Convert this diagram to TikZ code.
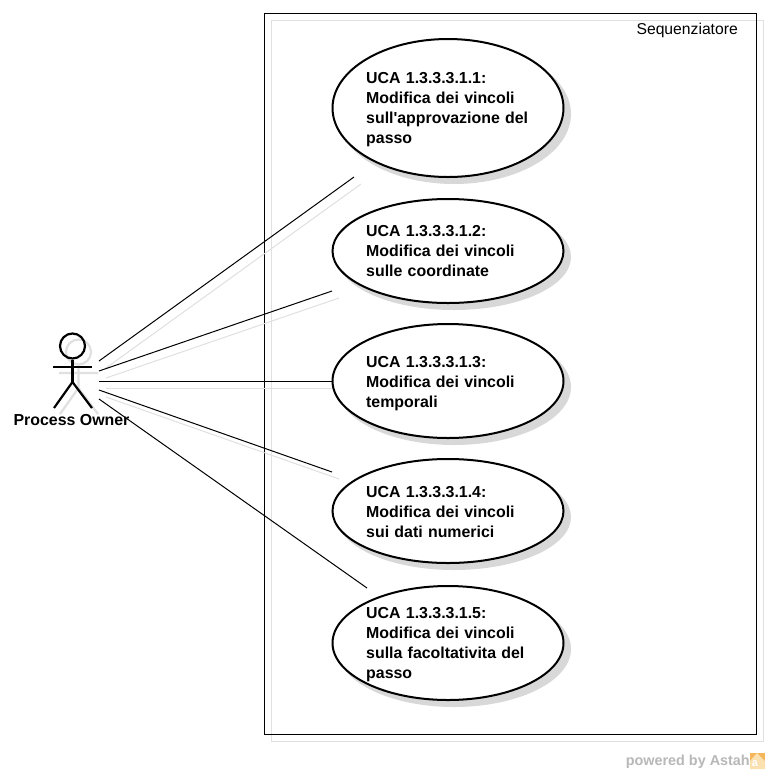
\documentclass[tikz,border=0pt]{standalone}
\usepackage{fontspec}
\setmainfont{Liberation Sans}
\newfontface\boldish{Liberation Sans Bold}
\definecolor{shadowgrey}{HTML}{E0E0E0}
\definecolor{shadowfill}{HTML}{D8D8D8}
\definecolor{wm}{HTML}{B8B8B8}
\definecolor{logoa}{HTML}{F5B65A}
\definecolor{logob}{HTML}{FBE0B0}
\usetikzlibrary{shapes.geometric}
\tikzset{
  x=1pt,y=-1pt,
  uc/.style={ellipse,draw=black,line width=2pt,fill=white,minimum width=231pt,inner sep=0pt},
  ucshadow/.style={ellipse,fill=shadowfill,draw=none,minimum width=234pt,inner sep=0pt},
  uctext/.style={anchor=north west,align=left,font=\boldish\fontsize{15.9}{20}\selectfont,inner sep=0pt,text width=190pt},
  assoc/.style={draw=black,line width=1pt},
  assocshadow/.style={draw=shadowgrey,line width=1pt},
  actorline/.style={draw=black,line width=2.2pt},
  actorshadow/.style={draw=shadowgrey,line width=2.2pt},
}
\begin{document}
\begin{tikzpicture}
\useasboundingbox (0,0) rectangle (770,774);
\fill[white] (0,0) rectangle (770,774);
% frame
\draw[shadowgrey,line width=1pt] (271,20.5) rectangle (763,741.5);
\node[rectangle,draw=black,line width=1pt,fill=none,outer sep=0pt,minimum width=492pt,minimum height=721pt,inner sep=0pt,anchor=north west] (frame) at (264,13) {};
\node[anchor=east,inner sep=0pt,font=\fontsize{15.7}{18}\selectfont] (framelabel) at (738,30) {Sequenziatore};
% free ends
\coordinate (a1) at (99,361); \coordinate (b1) at (354,177);
\coordinate (a2) at (99,371); \coordinate (b2) at (332,291);
\coordinate (a3) at (99,381); \coordinate (b3) at (332,381);
\coordinate (a4) at (99,390); \coordinate (b4) at (332,472);
\coordinate (a5) at (99,399); \coordinate (b5) at (367,588);
% connector shadows
\foreach \i in {1,...,4}{
  \draw[assocshadow] ([shift={(7,7)}]a\i) -- ([shift={(7,7)}]b\i);
}
% ellipse shadows
\node[ucshadow,minimum height=140pt] (s1) at (454,114) {};
\node[ucshadow,minimum height=106pt] (s2) at (454,257) {};
\node[ucshadow,minimum height=116pt] (s3) at (454,387) {};
\node[ucshadow,minimum height=106pt] (s4) at (454,517) {};
\node[ucshadow,minimum height=116pt] (s5) at (454,649) {};
% ellipses
\node[uc,minimum height=138pt] (u1) at (448,108) {};
\node[uc,minimum height=104pt] (u2) at (448,251) {};
\node[uc,minimum height=114pt] (u3) at (448,381) {};
\node[uc,minimum height=104pt] (u4) at (448,511) {};
\node[uc,minimum height=114pt] (u5) at (448,643) {};
% connectors
\foreach \i in {1,...,5}{
  \draw[assoc] (a\i) -- (b\i);
}
% texts
\node[uctext] (t1) at (366,72.5) {UCA 1.3.3.3.1.1:\\Modifica dei vincoli\\sull'approvazione del\\passo};
\node[uctext] (t2) at (366,225.5) {UCA 1.3.3.3.1.2:\\Modifica dei vincoli\\sulle coordinate};
\node[uctext] (t3) at (366,356.5) {UCA 1.3.3.3.1.3:\\Modifica dei vincoli\\temporali};
\node[uctext] (t4) at (366,486.5) {UCA 1.3.3.3.1.4:\\Modifica dei vincoli\\sui dati numerici};
\node[uctext] (t5) at (366,607.5) {UCA 1.3.3.3.1.5:\\Modifica dei vincoli\\sulla facoltativita del\\passo};
% actor shadow
\begin{scope}[shift={(6,6)}]
\draw[actorshadow] (72.5,346) circle (12.5);
\draw[actorshadow] (72.5,358.5) -- (72.5,382) (53,367) -- (92,367) (72.5,382) -- (54,408) (72.5,382) -- (92,408);
\end{scope}
% actor
\node[circle,draw=black,line width=2.2pt,minimum size=25pt,inner sep=0pt] (head) at (72.5,346) {};
\coordinate (hip) at (72.5,382);
\coordinate (arml) at (53,367); \coordinate (armr) at (92,367);
\coordinate (legl) at (54,408); \coordinate (legr) at (92,408);
\draw[actorline] (head.south) -- (hip);
\draw[actorline] (arml) -- (armr);
\draw[actorline] (hip) -- (legl);
\draw[actorline] (hip) -- (legr);
\node[inner sep=0pt,font=\boldish\fontsize{15.9}{18}\selectfont] (actorlabel) at (71.5,420) {Process Owner};
% watermark
\node[anchor=east,inner sep=0pt,text=wm,font=\bfseries\fontsize{14.4}{18}\selectfont] (wmtext) at (750,761.5) {powered by Astah};
\fill[logoa] (750,753) rectangle (765,769);
\fill[logob] (757,753) -- (765,761) -- (765,769) -- (750,769) -- (750,761) -- cycle;
\node[inner sep=0pt,text=white,font=\bfseries\fontsize{11}{12}\selectfont] (wmlogo) at (755,764) {a};
\end{tikzpicture}
\end{document}
